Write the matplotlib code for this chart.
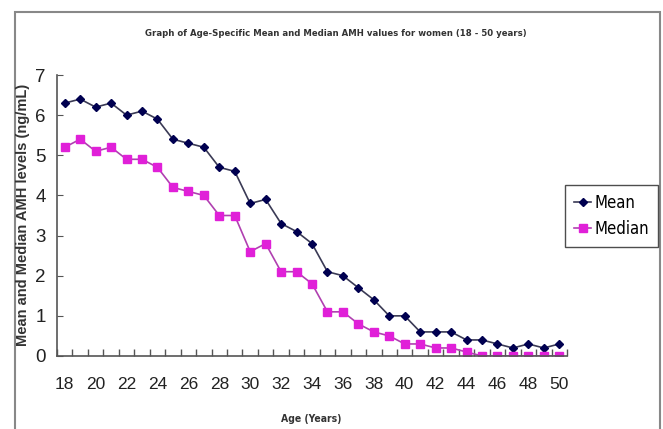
import numpy as np
import matplotlib
matplotlib.use('Agg')
import matplotlib.pyplot as plt
from matplotlib.patches import Rectangle

ages = list(range(18, 51))
mean_amh = [6.3, 6.4, 6.2, 6.3, 6.0, 6.1, 5.9, 5.4, 5.3, 5.2, 4.7, 4.6, 3.8, 3.9,
            3.3, 3.1, 2.8, 2.1, 2.0, 1.7, 1.4, 1.0, 1.0, 0.6, 0.6, 0.6, 0.4, 0.4,
            0.3, 0.2, 0.3, 0.2, 0.3]
median_amh = [5.2, 5.4, 5.1, 5.2, 4.9, 4.9, 4.7, 4.2, 4.1, 4.0, 3.5, 3.5, 2.6, 2.8,
              2.1, 2.1, 1.8, 1.1, 1.1, 0.8, 0.6, 0.5, 0.3, 0.3, 0.2, 0.2, 0.1, 0.0,
              0.0, 0.0, 0.0, 0.0, 0.0]
xtick_labels = list(range(18, 51, 2))

plt.rcParams['font.family'] = ['Liberation Sans', 'DejaVu Sans']
cond = dict(family='DejaVu Sans', fontstretch='condensed')

fig = plt.figure(figsize=(6.63, 4.29), dpi=100)
W, H = 663, 429

# outer frame of the chart area
fig.patches.append(Rectangle((15 / W, -0.1), (660 - 15) / W, (429 - 12) / H + 0.1,
                             transform=fig.transFigure, fill=False,
                             edgecolor='#888888', linewidth=1.5))

ax = fig.add_axes([57 / W, 1 - 356 / H, (567 - 57) / W, (356 - 75) / H])

ax.plot(ages, mean_amh, color='#3a3a55', linewidth=1.2, marker='D',
        markersize=4, markerfacecolor='#000050', markeredgecolor='#000050',
        label='Mean')
ax.plot(ages, median_amh, color='#b040b0', linewidth=1.2, marker='s',
        markersize=5.5, markerfacecolor='#e020d8', markeredgecolor='#e020d8',
        label='Median')

ax.set_xlim(17.5, 50.5)
ax.set_ylim(0, 7)
ax.set_xticks(xtick_labels)
ax.set_xticklabels([str(a) for a in xtick_labels], fontsize=12.5)
ax.set_xticks(np.arange(17.5, 51, 1), minor=True)
ax.tick_params(axis='x', which='major', length=0, pad=15)
ax.tick_params(axis='x', which='minor', direction='in', length=5, width=1,
               color='#555555')
ax.set_yticks(range(0, 8))
ax.tick_params(axis='y', direction='in', length=4, labelsize=13.5, pad=8,
               color='#555555')
for lab in ax.get_xticklabels() + ax.get_yticklabels():
    lab.set_color('#222222')

for s in ['top', 'right']:
    ax.spines[s].set_visible(False)
for s in ['left', 'bottom']:
    ax.spines[s].set_color('#555555')
    ax.spines[s].set_linewidth(1.2)

fig.text(336 / W, 1 - 33 / H,
         'Graph of Age-Specific Mean and Median AMH values for women (18 - 50 years)',
         ha='center', va='center', fontsize=6.8, fontweight='bold',
         color='#333333', **cond)
fig.text(23 / W, 1 - 215 / H, 'Mean and Median AMH levels (ng/mL)',
         rotation=90, ha='center', va='center', fontsize=10.5,
         fontweight='bold', color='#333333')
fig.text(311 / W, 1 - 419 / H, 'Age (Years)', ha='center', va='center',
         fontsize=7.5, fontweight='bold', color='#333333', **cond)

leg = fig.legend(loc='center', bbox_to_anchor=(611.5 / W, 1 - 216 / H),
                 prop=dict(size=12, family='DejaVu Sans', stretch='condensed'),
                 frameon=True, fancybox=False, handlelength=1.0,
                 handletextpad=0.2, borderpad=0.55, labelspacing=0.5,
                 borderaxespad=0)
leg.get_frame().set_edgecolor('#222222')
leg.get_frame().set_linewidth(1.0)

fig.savefig('out.png', dpi=100)
